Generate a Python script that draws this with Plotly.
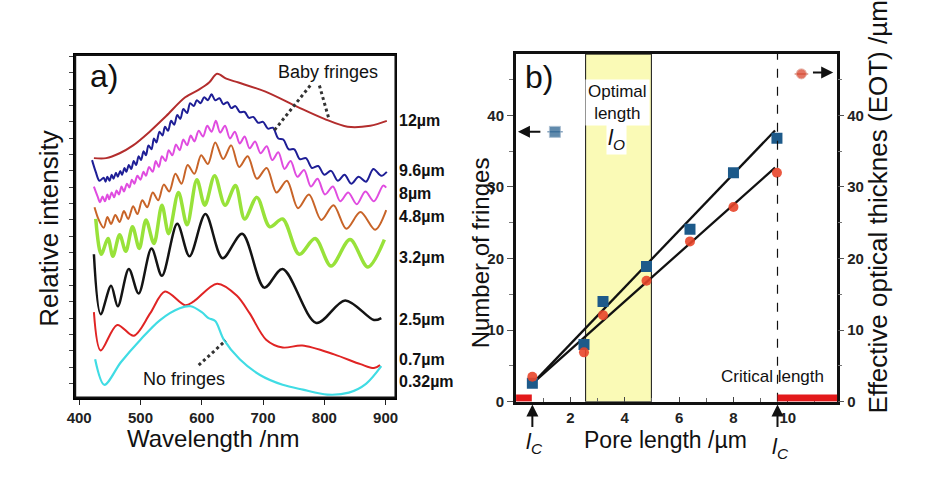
import plotly.graph_objects as go

# ================= Panel a) reflectance spectra =================
# wavelength (nm) / relative intensity (arbitrary units)
lam_12 = [424, 444, 466, 488, 515, 542, 573, 596, 612, 625, 640, 660, 703, 757, 800, 838, 875, 902]
int_12 = [243, 243, 248, 256, 270, 286, 305, 313, 320, 329, 324, 320, 311, 295, 283, 275, 276, 281]

lam_96 = [421, 427, 433, 440, 443, 446, 449.5, 453, 456, 460, 463, 467, 470,
          474, 477, 481, 485, 489, 493, 497, 501, 505, 509,
          513, 518, 522, 526, 531, 536, 540, 545, 550, 555,
          560, 565, 570, 576, 581, 587, 592, 598, 604, 610,
          616, 622, 629, 635, 642, 648, 655, 662, 670, 677,
          684, 692, 700, 708, 716, 725, 733, 742, 751, 760,
          770, 780, 790, 800, 811, 822, 833, 844, 856, 868,
          880, 893, 902]
int_96 = [241, 229, 220, 223, 219, 224, 220, 226, 222, 228, 224, 230, 226,
          233, 229, 236, 232, 240, 236, 245, 241, 250, 246,
          256, 252, 263, 259, 270, 266, 275, 271, 281, 277,
          287, 283, 293, 289, 299, 296, 302, 299, 305, 302,
          308, 302, 304, 298, 300, 294, 296, 290, 290, 284,
          285, 279, 280, 273, 274, 263, 262, 252, 252, 242,
          243, 233, 235, 226, 230, 220, 226, 217, 224, 219,
          232, 225, 229]

lam_8 = [424, 430, 434, 438, 442, 446, 449, 453, 457, 461, 465, 469, 473,
         478, 482, 486, 490, 495, 500, 505, 509, 514, 520,
         525, 530, 535, 541, 546, 552, 558, 564, 570, 576,
         582, 588, 595, 602, 609, 616, 623, 630, 638, 646,
         654, 662, 670, 678, 687, 696, 706, 715, 725, 735,
         745, 756, 767, 778, 789, 801, 814, 826, 839, 853,
         867, 881, 896, 901]
int_8 = [214, 204, 198, 204, 199, 206, 201, 208, 203, 210, 206, 214, 209,
         217, 213, 221, 217, 225, 221, 229, 225, 234, 229,
         240, 234, 245, 240, 251, 246, 257, 251, 262, 256,
         266, 260, 271, 265, 276, 270, 281, 269, 276, 263,
         270, 258, 265, 253, 260, 248, 255, 241, 249, 232,
         240, 224, 231, 214, 222, 206, 214, 199, 208, 196,
         209, 199, 215, 213]

lam_48 = [425, 432, 440, 446, 452, 459, 466, 473, 480, 488, 495, 503, 511,
          520, 529, 538, 547, 557, 567, 577, 588, 599, 610,
          622, 635, 648, 661, 675, 690, 706, 722, 739, 757,
          775, 795, 815, 836, 859, 883, 901]
int_48 = [193, 180, 172, 183, 176, 185, 178, 189, 181, 194, 186, 200, 193,
          208, 200, 216, 209, 227, 217, 236, 227, 246, 237,
          259, 242, 256, 234, 245, 222, 233, 208, 220, 192,
          206, 180, 195, 171, 188, 170, 190]

lam_32 = [427, 436, 447, 455, 466, 476, 487, 498, 509, 522,
          535, 546, 562, 576, 592, 605, 621, 638, 655, 670,
          690, 711, 732, 759, 785, 811, 842, 871, 898]
int_32 = [181, 145, 161, 143, 165, 148, 173, 151, 180, 156,
          195, 166, 208, 175, 221, 195, 225, 195, 215, 181,
          203, 173, 181, 145, 161, 133, 160, 132, 160]

lam_25 = [424, 435, 452, 463, 481, 497, 518, 535, 560, 580, 606, 634, 666, 702, 732, 787, 834, 881, 893]
int_25 = [145, 84, 113, 92, 130, 105, 151, 123, 176, 143, 186, 141, 166, 111, 130, 75, 98, 78, 80]

lam_07 = [424, 435, 462, 489, 516, 540, 573, 587, 625, 657, 678, 705, 732, 764, 816, 859, 881, 891]
int_07 = [86, 47, 73, 62, 85, 107, 93, 97, 115, 103, 85, 58, 50, 52, 43, 33, 29, 32]

lam_032 = [426, 441, 468, 500, 532, 564, 582, 600, 611, 622, 636, 662, 695, 732, 765, 805, 840, 868, 893]
int_032 = [38, 12, 35, 58, 78, 90, 92, 86, 80, 77, 58, 38, 22, 12, 7, 2, 4, 13, 31]

spectrum_labels = ["12µm", "9.6µm", "8µm", "4.8µm", "3.2µm", "2.5µm", "0.7µm", "0.32µm"]
wl_ticks = [400, 500, 600, 700, 800, 900]

# ================= Panel b) fringes / EOT vs pore length =================
pore_length = [0.6, 2.5, 3.2, 4.8, 6.4, 8.0, 9.6]
n_fringes = [2.6, 8.0, 14.0, 18.9, 24.1, 32.0, 36.8]
eot = [3.5, 6.9, 12.1, 16.9, 22.4, 27.2, 32.0]
fit_x = [0.62, 9.53]
fit_fringes = [2.6, 37.9]
fit_eot = [2.6, 32.7]
optimal_range = [2.56, 4.98]
critical_lengths = [0.6, 9.62]
pore_ticks = [2, 4, 6, 8, 10]
count_ticks = [0, 10, 20, 30, 40]

# ---------------------------------------------------------------
W, H = 950, 500
FONT = "Liberation Sans, Arial, sans-serif"


def px(x):
    return x / W


def py(y):
    return 1 - y / H


fig = go.Figure()

styles = [
    ("#b32d2d", 2.0), ("#1e1e96", 2.0), ("#e04ce0", 2.0), ("#c86428", 2.0),
    ("#98e23a", 3.5), ("#141414", 2.5), ("#e02424", 2.0), ("#40dce4", 2.2),
]
series = [(lam_12, int_12), (lam_96, int_96), (lam_8, int_8), (lam_48, int_48),
          (lam_32, int_32), (lam_25, int_25), (lam_07, int_07), (lam_032, int_032)]
for (lx, ly), (col, w), name in zip(series, styles, spectrum_labels):
    fig.add_trace(go.Scatter(x=lx, y=ly, mode="lines", name=name,
                             line=dict(color=col, width=w, shape="spline", smoothing=0.9),
                             xaxis="x", yaxis="y", showlegend=False, hoverinfo="skip"))

# panel b traces
fig.add_trace(go.Scatter(x=fit_x, y=fit_fringes, mode="lines", line=dict(color="#111", width=2.3),
                         xaxis="x2", yaxis="y2", showlegend=False))
fig.add_trace(go.Scatter(x=fit_x, y=fit_eot, mode="lines", line=dict(color="#111", width=2.3),
                         xaxis="x2", yaxis="y2", showlegend=False))
fig.add_trace(go.Scatter(x=pore_length, y=eot, mode="markers",
                         marker=dict(symbol="circle", size=10, color="#e8452a", opacity=0.9),
                         xaxis="x2", yaxis="y3", showlegend=False))
fig.add_trace(go.Scatter(x=pore_length, y=n_fringes, mode="markers",
                         marker=dict(symbol="square", size=11, color="#1d5a8a"),
                         xaxis="x2", yaxis="y2", showlegend=False))

# legend keys (symbol with a short line)
fig.add_trace(go.Scatter(x=[1.15, 1.43, 1.72], y=[37.7, 37.7, 37.7], mode="lines+markers",
                         line=dict(color="#8aa6c0", width=1.5),
                         marker=dict(symbol="square", size=[0, 11, 0], color="#1d5a8a"),
                         xaxis="x2", yaxis="y2", showlegend=False))
fig.add_trace(go.Scatter(x=[10.25, 10.5, 10.75], y=[45.8, 45.8, 45.8], mode="lines+markers",
                         line=dict(color="#d99080", width=1.5),
                         marker=dict(symbol="circle", size=[0, 10, 0], color="#d83a20"),
                         xaxis="x2", yaxis="y3", showlegend=False))

shapes = [
    # optimal length band
    dict(type="rect", xref="x2", yref="y2", x0=optimal_range[0], x1=optimal_range[1], y0=0, y1=48.56,
         fillcolor="#fafab6", line=dict(color="#111", width=1), layer="below"),
    # critical length dashed line
    dict(type="line", xref="x2", yref="y2", x0=critical_lengths[1], x1=critical_lengths[1], y0=0, y1=48.56,
         line=dict(color="#111", width=1.2, dash="dash")),
    # red bars on axis
    dict(type="rect", xref="x2", yref="y2", x0=0, x1=0.58, y0=0.05, y1=1.0,
         fillcolor="#e3191b", line=dict(width=0)),
    dict(type="rect", xref="x2", yref="y2", x0=critical_lengths[1], x1=11.82, y0=0.05, y1=1.0,
         fillcolor="#e3191b", line=dict(width=0)),
    # frame of panel a
    dict(type="rect", xref="x domain", yref="y domain", x0=0, x1=1, y0=0, y1=1,
         line=dict(color="#111", width=2), fillcolor="rgba(0,0,0,0)"),
    # dotted pointer lines in panel a
    dict(type="line", xref="x", yref="y", x0=777, y0=317, x1=718, y1=271,
         line=dict(color="#333", width=3, dash="dot")),
    dict(type="line", xref="x", yref="y", x0=792, y0=317, x1=808, y1=282,
         line=dict(color="#333", width=3, dash="dot")),
    dict(type="line", xref="x", yref="y", x0=595, y0=32, x1=639, y1=57,
         line=dict(color="#333", width=3, dash="dot")),
]

ann = []


def text(xp, yp, t, size, angle=0, **kw):
    d = dict(x=px(xp), y=py(yp), xref="paper", yref="paper", text=t, showarrow=False,
             textangle=angle, font=dict(size=size, color="#111", family=FONT),
             xanchor="center", yanchor="middle")
    d.update(kw)
    ann.append(d)


# panel a texts
text(97, 77, "a)", 32)
text(324, 73, "Baby fringes", 18)
text(178, 385, "No fringes", 18)
text(42, 232, "Relative intensity", 26, angle=-90)
text(208, 446, "Wavelength /nm", 24)
label_y = [122, 173, 197, 220, 262, 325, 365, 388]
for lab, yy in zip(spectrum_labels, label_y):
    text(394, yy, "<b>" + lab + "</b>", 16, xanchor="left")

# panel b texts
text(537, 78, "b)", 32)
text(617, 104, "Optimal<br>length", 17, bgcolor="white", borderpad=2)
text(616, 141, "<i>l</i><sub><i>O</i></sub>", 22, bgcolor="white", borderpad=1)
text(773, 383, "Critical length", 17)
text(478, 257, "Number of fringes", 24, angle=-90)
text(665, 447, "Pore length /µm", 23)
text(880, 210, "Effective optical thicknes (EOT) /µm", 26, angle=-90)
text(533, 450, "<i>l</i><sub><i>C</i></sub>", 22)
text(782, 455, "<i>l</i><sub><i>C</i></sub>", 22)

# arrows
for xc in critical_lengths:
    ann.append(dict(x=xc, y=py(411), xref="x2", yref="paper", ax=0, ay=24, text="",
                    showarrow=True, arrowhead=2, arrowsize=1.2, arrowwidth=2, arrowcolor="#111"))
ann.append(dict(x=0.07, y=37.7, xref="x2", yref="y2", ax=0.95, ay=37.7, axref="x2", ayref="y2",
                text="", showarrow=True, arrowhead=2, arrowsize=1.2, arrowwidth=2, arrowcolor="#111"))
ann.append(dict(x=11.67, y=46.0, xref="x2", yref="y2", ax=10.87, ay=46.0, axref="x2", ayref="y2",
                text="", showarrow=True, arrowhead=2, arrowsize=1.2, arrowwidth=2, arrowcolor="#111"))

tickfont = dict(size=15, color="#222", family=FONT)

fig.update_layout(
    width=W, height=H, autosize=False,
    margin=dict(l=0, r=0, t=0, b=0),
    paper_bgcolor="white", plot_bgcolor="white",
    font=dict(family=FONT, color="#111"),
    showlegend=False,
    shapes=shapes, annotations=ann,
    xaxis=dict(domain=[px(68), px(392)], range=[393.5, 916.1], anchor="y",
               tickmode="array", tickvals=wl_ticks, ticktext=["<b>%d</b>" % v for v in wl_ticks],
               ticks="outside", ticklen=5, tickcolor="#222", tickfont=tickfont,
               showline=True, mirror=True, linecolor="black", linewidth=2,
               showgrid=False, zeroline=False),
    yaxis=dict(domain=[py(404), py(56)], range=[-1, 348], anchor="x",
               showticklabels=False, ticks="outside", tick0=13.3, dtick=16.67, ticklen=4,
               tickcolor="#444", showline=True, mirror=True, linecolor="black", linewidth=2,
               showgrid=False, zeroline=False),
    xaxis2=dict(domain=[px(514), px(839)], range=[0, 11.82], anchor="y2",
                tickmode="array", tickvals=pore_ticks, ticktext=["<b>%d</b>" % v for v in pore_ticks],
                ticks="inside", ticklen=5, tickcolor="#444", tickfont=tickfont,
                minor=dict(dtick=1, ticks="inside", ticklen=4, tickcolor="#666"),
                showline=True, mirror=True, linecolor="#111", linewidth=3,
                showgrid=False, zeroline=False),
    yaxis2=dict(domain=[py(408.3), py(55)], range=[0, 48.56], anchor="x2",
                tickmode="array", tickvals=count_ticks, ticktext=["<b>%d</b>" % v for v in count_ticks],
                ticks="outside", ticklen=6, tickcolor="#555", tickfont=tickfont,
                minor=dict(tickvals=[5, 15, 25, 35, 45], ticks="outside", ticklen=4, tickcolor="#777"),
                showline=True, mirror=True, linecolor="#111", linewidth=3,
                showgrid=False, zeroline=False),
    yaxis3=dict(domain=[py(408.3), py(55)], range=[0, 48.56], anchor="x2", overlaying="y2", side="right",
                tickmode="array", tickvals=count_ticks, ticktext=["<b>%d</b>" % v for v in count_ticks],
                ticks="outside", ticklen=6, tickcolor="#555", tickfont=tickfont,
                minor=dict(tickvals=[5, 15, 25, 35, 45], ticks="outside", ticklen=4, tickcolor="#777"),
                showline=False, showgrid=False, zeroline=False),
)

fig.write_html("out.html", config={"displayModeBar": False},
               post_script="document.body.style.margin='0px';")
